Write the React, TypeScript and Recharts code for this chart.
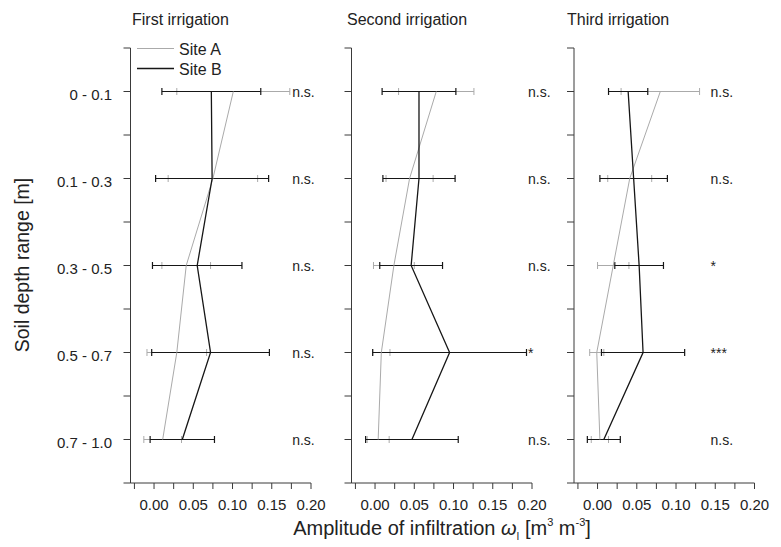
import React from 'react';
import { ScatterChart, Scatter, XAxis, YAxis, ErrorBar, Legend } from 'recharts';

// ---------- data ----------
const DEPTHS = ['0 - 0.1', '0.1 - 0.3', '0.3 - 0.5', '0.5 - 0.7', '0.7 - 1.0'];
const PANEL_TITLES = ['First irrigation', 'Second irrigation', 'Third irrigation'];
const SERIES_NAMES = ['Site A', 'Site B'];

const FIRST_A = [0.101, 0.075, 0.041, 0.029, 0.011];
const FIRST_A_ERR = [0.072, 0.057, 0.031, 0.038, 0.024];
const FIRST_B = [0.073, 0.074, 0.055, 0.072, 0.036];
const FIRST_B_ERR = [0.063, 0.072, 0.057, 0.075, 0.041];
const FIRST_SIG = ['n.s.', 'n.s.', 'n.s.', 'n.s.', 'n.s.'];

const SECOND_A = [0.078, 0.044, 0.024, 0.008, 0.004];
const SECOND_A_ERR = [0.048, 0.030, 0.026, 0.011, 0.014];
const SECOND_B = [0.056, 0.056, 0.046, 0.095, 0.047];
const SECOND_B_ERR = [0.047, 0.046, 0.040, 0.098, 0.059];
const SECOND_SIG = ['n.s.', 'n.s.', 'n.s.', '*', 'n.s.'];

const THIRD_A = [0.080, 0.041, 0.020, -0.001, 0.003];
const THIRD_A_ERR = [0.050, 0.028, 0.020, 0.009, 0.011];
const THIRD_B = [0.039, 0.046, 0.053, 0.058, 0.008];
const THIRD_B_ERR = [0.025, 0.043, 0.031, 0.053, 0.021];
const THIRD_SIG = ['n.s.', 'n.s.', '*', '***', 'n.s.'];

const X_TICKS = [-0.025, 0, 0.025, 0.05, 0.075, 0.1, 0.125, 0.15, 0.175, 0.2];
const X_TICK_LABELS = ['', '0.00', '', '0.05', '', '0.10', '', '0.15', '', '0.20'];
const Y_TICKS = [-0.5, 0, 0.5, 1, 1.5, 2, 2.5, 3, 3.5, 4, 4.5];

// ---------- styles ----------
const FONT = '"Liberation Sans", Arial, Helvetica, sans-serif';
const GREY = '#aaaaaa';
const BLACK = '#161616';
const AXIS = '#3a3a3a';

const rows = (means: number[], errs: number[]) =>
  DEPTHS.map((_, i) => ({ x: means[i], y: i, err: errs[i] }));

const sigRows = (labels: string[], xPos: number) =>
  DEPTHS.map((_, i) => ({ x: xPos, y: i, label: labels[i] }));

const XTick = (props: any) => {
  const { x, y, payload } = props;
  const idx = X_TICKS.findIndex((t) => Math.abs(t - payload.value) < 1e-9);
  const label = idx >= 0 ? X_TICK_LABELS[idx] : '';
  if (!label) return <g />;
  return (
    <text x={x} y={y + 19} textAnchor="middle" fontSize={15} fill="#222" fontFamily={FONT}>
      {label}
    </text>
  );
};

const YTickLabels = (props: any) => {
  const { x, y, payload } = props;
  const v = payload.value;
  if (!Number.isInteger(v) || v < 0 || v >= DEPTHS.length) return <g />;
  return (
    <text x={x + 1.5} y={y + 8} textAnchor="end" fontSize={15} fill="#222" fontFamily={FONT}>
      {DEPTHS[v]}
    </text>
  );
};

const NoTick = () => <g />;

const LegendContent = () => (
  <svg width={110} height={42} style={{ overflow: 'visible', display: 'block' }}>
    <line x1={0} x2={37} y1={10.5} y2={10.5} stroke={GREY} strokeWidth={1} />
    <text x={42} y={16.5} fontSize={16} fill="#222" fontFamily={FONT}>{SERIES_NAMES[0]}</text>
    <line x1={0} x2={37} y1={30.5} y2={30.5} stroke={BLACK} strokeWidth={1.3} />
    <text x={42} y={36.5} fontSize={16} fill="#222" fontFamily={FONT}>{SERIES_NAMES[1]}</text>
  </svg>
);

type PanelProps = {
  left: number;
  width: number;
  yAxisWidth: number;
  marginRight: number;
  a: number[];
  aErr: number[];
  b: number[];
  bErr: number[];
  sig: string[];
  sigX: number;
  showYLabels: boolean;
  showLegend: boolean;
};

const Panel = (p: PanelProps) => {
  const dataA = rows(p.a, p.aErr);
  const dataB = rows(p.b, p.bErr);
  const dataSig = sigRows(p.sig, p.sigX);
  return (
    <div style={{ position: 'absolute', left: p.left, top: 0 }}>
      <ScatterChart
        width={p.width}
        height={547}
        margin={{ top: 48, right: p.marginRight, bottom: 34, left: 0 }}
        style={{ overflow: 'visible' }}
      >
        <XAxis
          type="number"
          dataKey="x"
          domain={[-0.03, 0.2]}
          ticks={X_TICKS}
          interval={0}
          tick={<XTick />}
          tickSize={6}
          tickMargin={2}
          height={30}
          axisLine={{ stroke: AXIS, strokeWidth: 1 }}
          tickLine={{ stroke: AXIS, strokeWidth: 1 }}
        />
        <YAxis
          type="number"
          dataKey="y"
          domain={[-0.5, 4.5]}
          reversed
          ticks={Y_TICKS}
          interval={0}
          width={p.yAxisWidth}
          tick={p.showYLabels ? <YTickLabels /> : <NoTick />}
          tickSize={7}
          tickMargin={13}
          axisLine={{ stroke: AXIS, strokeWidth: 1 }}
          tickLine={{ stroke: AXIS, strokeWidth: 1 }}
        />
        {p.showLegend && (
          <Legend
            layout="vertical"
            align="center"
            verticalAlign="middle"
            content={<LegendContent />}
            wrapperStyle={{ left: 137, top: 38, width: 110, height: 42 }}
          />
        )}
        <Scatter
          name={SERIES_NAMES[0]}
          data={dataA}
          fill={GREY}
          line={{ stroke: GREY, strokeWidth: 1 }}
          lineType="joint"
          shape={() => <g />}
          isAnimationActive={false}
        >
          <ErrorBar dataKey="err" direction="x" width={3.5} stroke={GREY} strokeWidth={1} isAnimationActive={false} />
        </Scatter>
        <Scatter
          name={SERIES_NAMES[1]}
          data={dataB}
          fill={BLACK}
          line={{ stroke: BLACK, strokeWidth: 1.3 }}
          lineType="joint"
          shape={() => <g />}
          isAnimationActive={false}
        >
          <ErrorBar dataKey="err" direction="x" width={3.5} stroke={BLACK} strokeWidth={1.2} isAnimationActive={false} />
        </Scatter>
        <Scatter
          name="sig"
          data={dataSig}
          fill="none"
          legendType="none"
          isAnimationActive={false}
          shape={(s: any) => (
            <text x={s.cx} y={s.cy + 5} fontSize={14} fill="#222" fontFamily={FONT}>
              {s.payload?.label}
            </text>
          )}
        />
      </ScatterChart>
    </div>
  );
};

const titleStyle = (left: number): React.CSSProperties => ({
  position: 'absolute',
  left,
  top: 20,
  transform: 'translateY(-50%)',
  fontSize: 16,
  fontFamily: FONT,
  color: '#222',
  whiteSpace: 'nowrap',
  lineHeight: 1,
});

export default function App() {
  return (
    <div
      style={{
        position: 'absolute',
        left: 0,
        top: 0,
        width: 781,
        height: 547,
        background: '#fff',
        fontFamily: FONT,
        overflow: 'hidden',
      }}
    >
      <div style={titleStyle(132)}>{PANEL_TITLES[0]}</div>
      <div style={titleStyle(347)}>{PANEL_TITLES[1]}</div>
      <div style={titleStyle(567)}>{PANEL_TITLES[2]}</div>

      <Panel
        left={0}
        width={330}
        yAxisWidth={130.5}
        marginRight={19}
        a={FIRST_A}
        aErr={FIRST_A_ERR}
        b={FIRST_B}
        bErr={FIRST_B_ERR}
        sig={FIRST_SIG}
        sigX={0.176}
        showYLabels
        showLegend
      />
      <Panel
        left={340}
        width={220}
        yAxisWidth={11.5}
        marginRight={28}
        a={SECOND_A}
        aErr={SECOND_A_ERR}
        b={SECOND_B}
        bErr={SECOND_B_ERR}
        sig={SECOND_SIG}
        sigX={0.195}
        showYLabels={false}
        showLegend={false}
      />
      <Panel
        left={560}
        width={221}
        yAxisWidth={14}
        marginRight={26.5}
        a={THIRD_A}
        aErr={THIRD_A_ERR}
        b={THIRD_B}
        bErr={THIRD_B_ERR}
        sig={THIRD_SIG}
        sigX={0.144}
        showYLabels={false}
        showLegend={false}
      />

      <div
        style={{
          position: 'absolute',
          left: 23,
          top: 265,
          transform: 'translate(-50%, -50%) rotate(-90deg)',
          fontSize: 19.5,
          color: '#222',
          whiteSpace: 'nowrap',
          lineHeight: 1,
        }}
      >
        Soil depth range [m]
      </div>

      <div
        style={{
          position: 'absolute',
          left: 442,
          top: 528,
          transform: 'translate(-50%, -50%)',
          fontSize: 20,
          color: '#222',
          whiteSpace: 'nowrap',
          lineHeight: 1,
        }}
      >
        Amplitude of infiltration{' '}
        <span style={{ fontStyle: 'italic' }}>ω</span>
        <span style={{ fontSize: 10, position: 'relative', top: 5 }}>I</span>
        {' '}[m
        <span style={{ fontSize: 11, position: 'relative', top: -9 }}>3</span>
        {' '}m
        <span style={{ fontSize: 11, position: 'relative', top: -9 }}>-3</span>]
      </div>
    </div>
  );
}
